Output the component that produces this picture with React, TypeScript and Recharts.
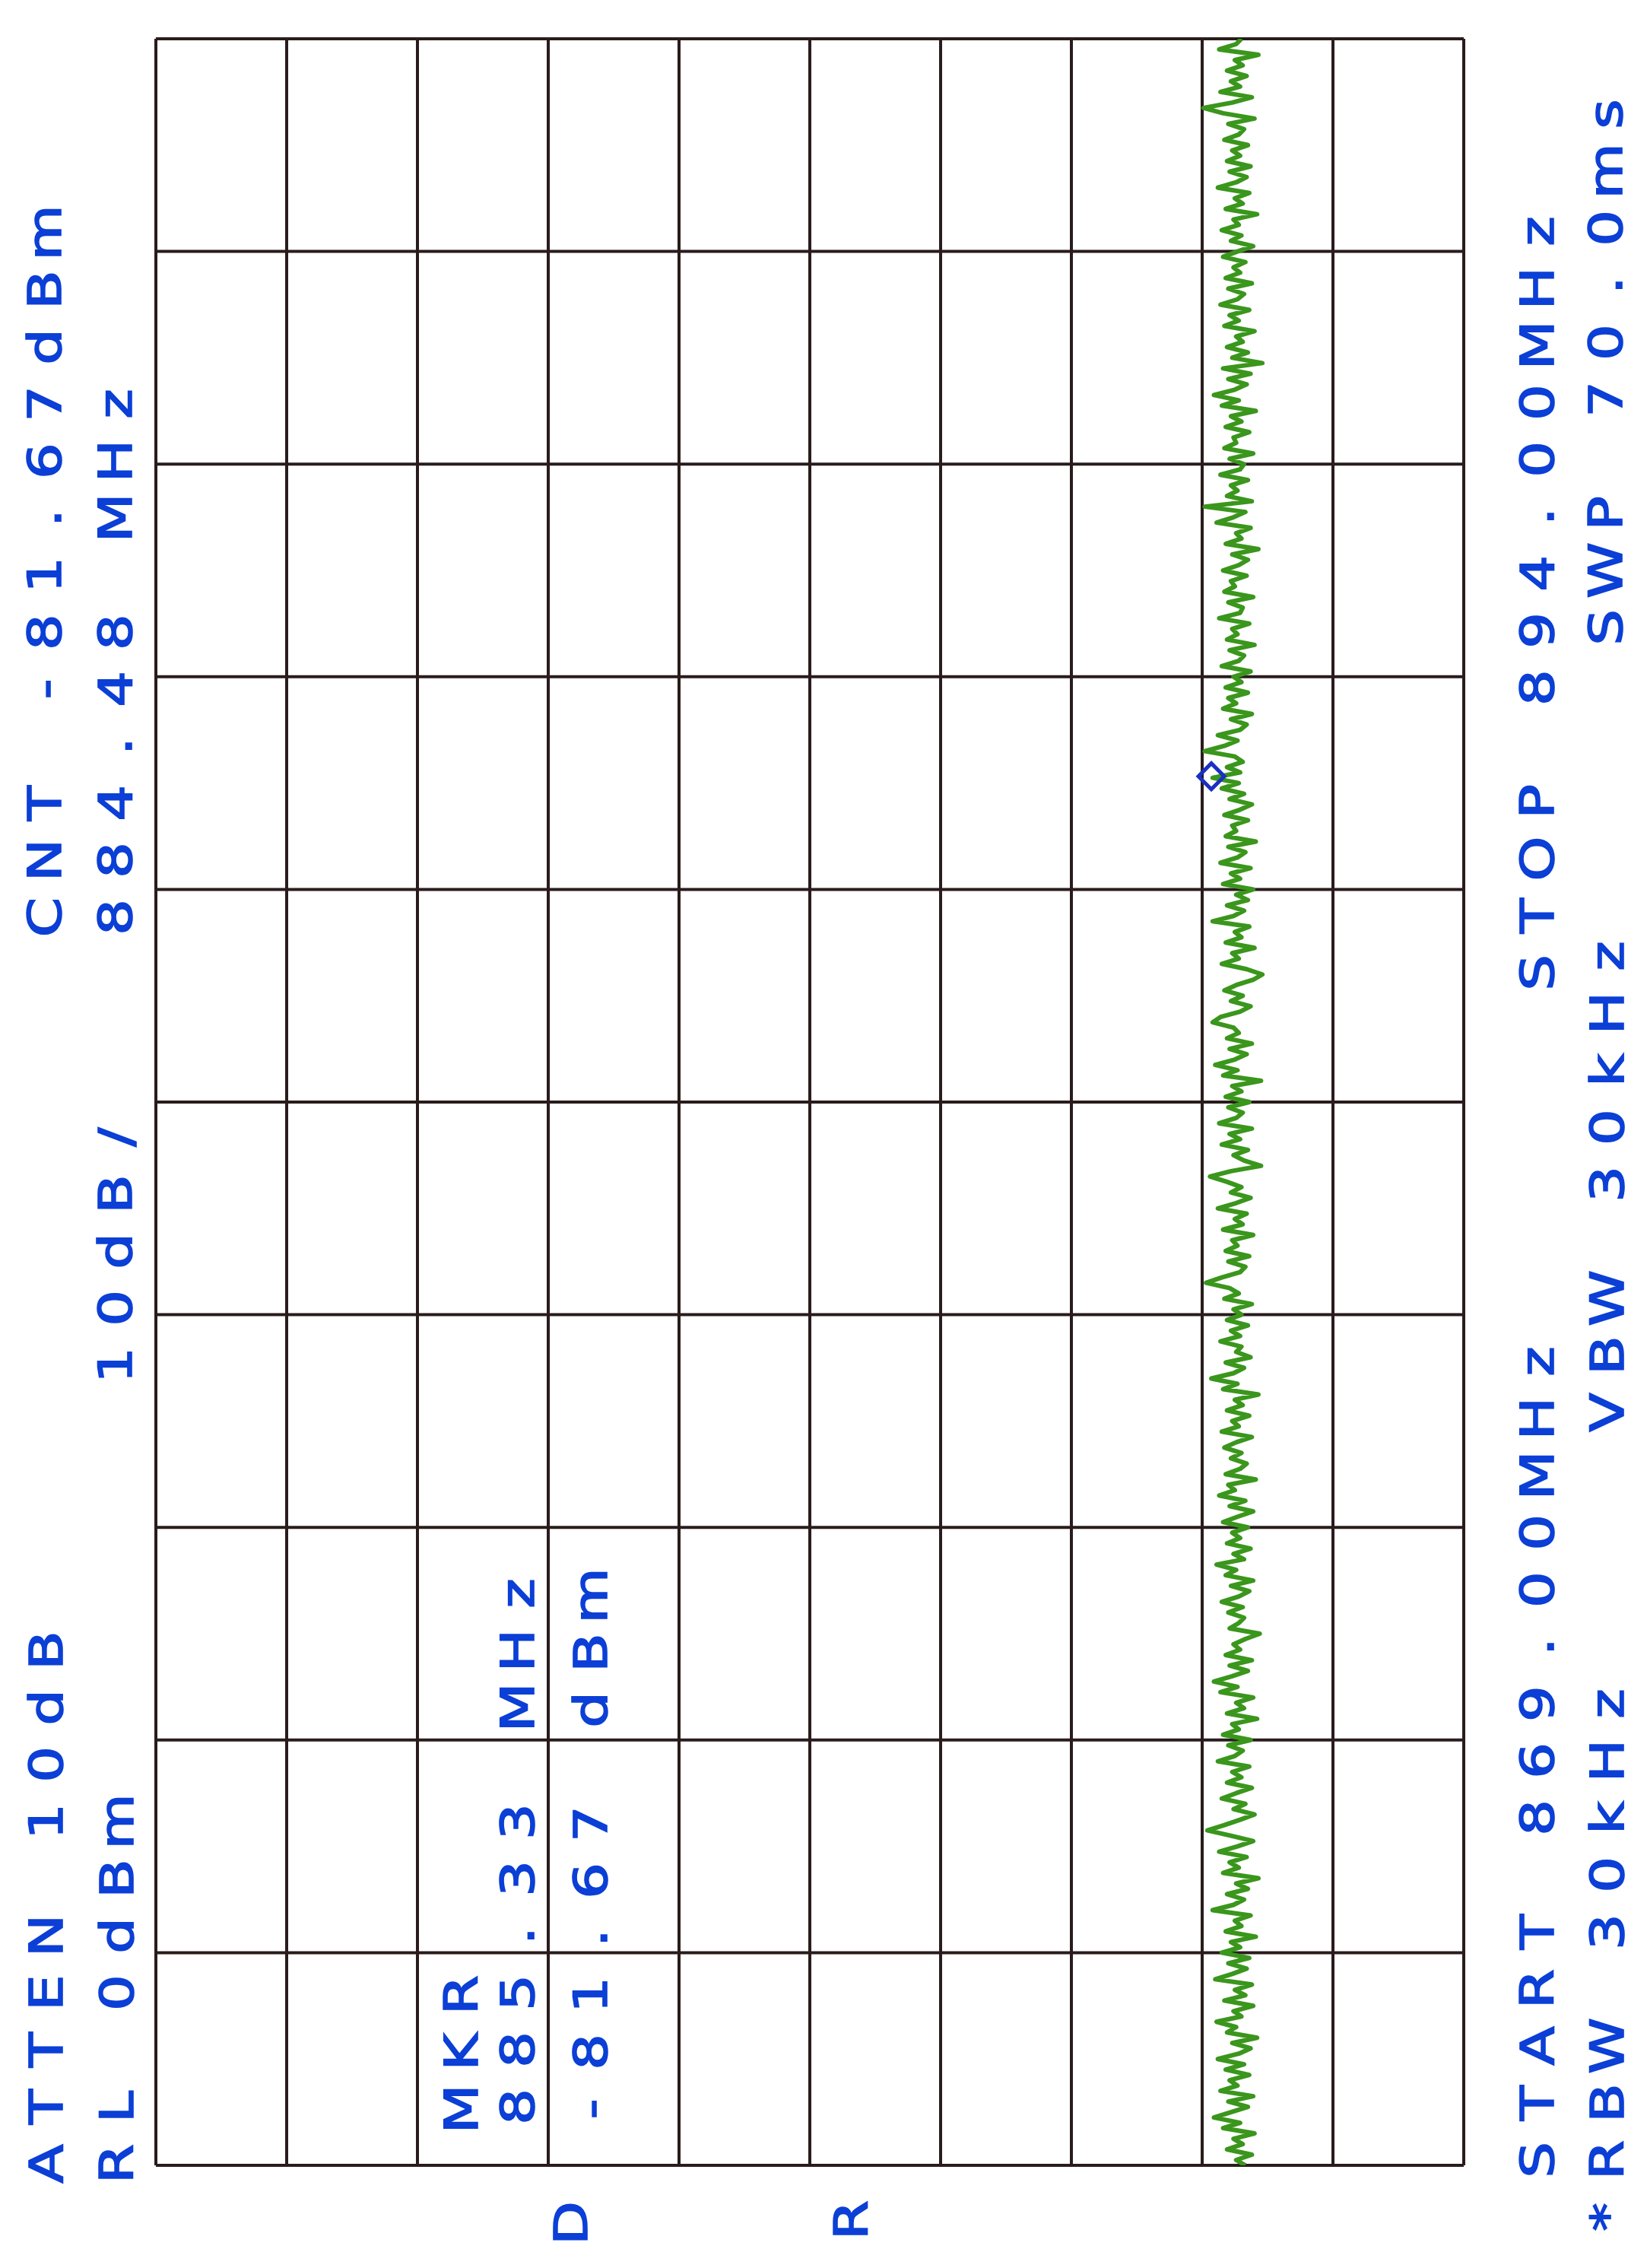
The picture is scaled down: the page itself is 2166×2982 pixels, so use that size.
import React from "react";
import {
  ComposedChart,
  Line,
  XAxis,
  YAxis,
  ReferenceLine,
  ReferenceDot,
} from "recharts";

// sweep settings as printed on the plot
const START_MHZ = 869;
const STOP_MHZ = 894;

// amplitude graticule (10 dB/div, RL 0 dBm) and frequency graticule
const DB_TICKS = [0, -10, -20, -30, -40, -50, -60, -70, -80, -90, -100];
const FREQ_TICKS = [869, 871.5, 874, 876.5, 879, 881.5, 884, 886.5, 889, 891.5, 894];

const TRACE_DB = [
  -83.3, -82.6, -83.8, -81.9, -83.1, -82.4, -84.0, -81.6, -82.9, -80.9, -82.2, -83.5, -82.0, -83.9, -81.4, -82.7, -82.1, -83.6, -81.8, -83.2,
  -81.2, -82.8, -83.7, -82.3, -84.2, -81.9, -82.6, -81.1, -83.0, -82.4, -83.9, -81.7, -83.3, -82.5, -83.8, -81.0, -82.3, -83.4, -82.0, -83.6,
  -81.5, -82.9, -82.2, -84.1, -81.8, -83.0, -82.5, -83.7, -80.8, -82.4, -83.2, -81.9, -83.5, -82.6, -84.3, -81.6, -82.8, -82.1, -83.4, -81.3,
  -82.7, -83.9, -82.2, -80.4, -81.7, -82.9, -84.0, -82.4, -83.3, -81.5, -82.6, -83.8, -81.9, -83.0, -82.3, -83.6, -81.2, -82.5, -83.1, -82.0,
  -83.7, -81.6, -82.8, -82.3, -84.2, -81.9, -83.2, -82.6, -83.9, -81.4, -82.7, -80.9, -82.3, -83.5, -82.1, -83.8, -81.8, -82.9, -82.4, -83.3,
  -84.4, -82.1, -82.8, -83.2, -82.0, -83.1, -81.5, -82.8, -83.6, -82.2, -83.9, -81.8, -82.6, -81.1, -83.2, -82.4, -83.7, -81.9, -82.9, -82.3,
  -83.5, -81.6, -82.7, -83.9, -82.1, -83.3, -81.3, -82.5, -82.0, -84.1, -81.8, -82.9, -83.4, -82.2, -83.0, -81.7, -82.6, -83.8, -81.5, -82.8,
  -82.3, -83.6, -81.9, -83.1, -82.5, -84.3, -81.6, -82.7, -80.7, -82.4, -83.2, -81.8, -83.7, -82.6, -83.0, -81.4, -82.9, -82.2, -83.5, -81.9,
  -83.0, -82.4, -83.8, -81.7, -82.8, -82.1, -80.3, -81.5, -82.9, -83.3, -82.0, -83.6, -81.8, -82.7, -82.3, -83.9, -81.6, -83.1, -82.5, -83.4,
  -81.2, -82.6, -83.7, -82.2, -83.0, -81.9, -80.6, -82.2, -84.5, -83.2, -82.4, -83.5, -81.5, -82.9, -82.1, -83.8, -81.3, -82.6, -83.1, -82.0,
  -83.6, -81.8, -83.0, -82.3, -84.5, -81.6, -82.7, -81.0, -82.5, -83.4, -82.1, -83.8, -81.9, -82.8, -82.4, -80.8, -81.4, -82.9, -83.7, -82.2,
  -83.1, -81.7, -82.6, -83.9, -84.6, -83.4, -81.5, -82.8, -82.3, -84.0, -81.8, -83.0, -82.5, -83.6, -80.8, -82.4, -83.2, -81.9, -83.5, -82.6,
  -83.9, -81.6, -82.9, -82.2, -83.7, -81.4, -82.7, -83.3, -82.0, -84.1, -81.8, -82.6, -82.3, -83.5, -81.7, -82.9, -83.8, -82.1, -83.2, -81.5,
  -82.8, -80.8, -82.9, -81.9, -83.1, -82.5, -80.2, -81.7, -82.7, -81.2, -82.9, -83.4, -82.2, -83.8, -81.6, -82.6, -82.0, -83.5, -81.8, -83.0,
  -82.4, -83.7, -81.5, -82.8, -83.2, -82.1, -84.0, -81.9, -82.7, -82.3, -83.6, -81.3, -82.9, -83.1, -82.0, -83.9, -81.7, -82.5, -82.2, -83.4,
  -81.6, -82.8, -83.5, -82.3, -84.3, -81.8, -83.0, -82.6, -83.7, -81.1, -82.4, -83.3, -80.2, -83.8, -81.9, -82.7, -82.2, -83.5, -81.4, -82.9,
  -83.2, -82.1, -83.9, -81.7, -82.6, -82.4, -83.6, -81.8, -83.0, -82.2, -84.1, -81.5, -82.8, -80.9, -82.5, -83.4, -82.0, -83.7, -81.6, -84.6,
  -82.3, -83.5, -81.9, -83.1, -82.6, -84.0, -81.7, -82.8, -82.1, -83.6, -81.4, -82.7, -83.2, -82.0, -83.8, -81.8, -82.9, -82.4, -83.3, -81.6,
  -82.7, -83.9, -82.2, -83.0, -81.5, -82.8, -82.4, -84.2, -81.8, -83.1, -82.5, -83.6, -81.2, -82.6, -83.4, -82.1, -83.7, -81.9, -82.9, -82.3,
  -83.5, -81.7, -82.8, -83.2, -82.0, -84.0, -81.6, -80.1, -82.3, -83.8, -81.4, -82.9, -82.2, -83.4, -81.9, -83.1, -82.5, -84.3, -81.3, -82.6, -83.0,
];

// marker as drawn on the trace
const MARKER_MHZ = 885.33;
const MARKER_DB = -80.7;

const traceData = TRACE_DB.map((v, i) => ({
  f: START_MHZ + (i * (STOP_MHZ - START_MHZ)) / (TRACE_DB.length - 1),
  v,
}));

const W = 2166;
const H = 2982;
const BLUE = "#0b3fd6";
const INK = "#2a1c1c";
const GREEN = "#3a961c";

const PITCH = 75;
const SLOT = 42;
const SX = 1.25;

// plotter-style label: fixed pitch, rotated to read bottom-to-top
const PlotLabel = ({ text, x, y }: { text: string; x: number; y: number }) => {
  const xs = Array.from(text).map((_, i) => ((i * PITCH + SLOT / 2) / SX).toFixed(1));
  return (
    <text
      transform={`translate(${x} ${y}) rotate(-90) scale(${SX} 1)`}
      x={xs.join(" ")}
      y={0}
      textAnchor="middle"
      fontFamily="DejaVu Sans, sans-serif"
      fontSize={60}
      fill={BLUE}
      stroke={BLUE}
      strokeWidth={1.6}
    >
      {text}
    </text>
  );
};

const Diamond = (props: any) => {
  const { cx, cy } = props;
  const r = 17;
  return (
    <path
      d={`M${cx - r},${cy} L${cx},${cy - r} L${cx + r},${cy} L${cx},${cy + r} Z`}
      fill="none"
      stroke="#1a30c4"
      strokeWidth={5}
    />
  );
};

export default function App() {
  return (
    <div style={{ position: "absolute", left: 0, top: 0, width: W, height: H, background: "#fff" }}>
      <ComposedChart
        width={W}
        height={H}
        layout="vertical"
        data={traceData}
        margin={{ top: 51, right: 241, bottom: 135, left: 205 }}
      >
        <XAxis type="number" dataKey="v" domain={[-100, 0]} reversed hide allowDataOverflow />
        <YAxis type="number" dataKey="f" domain={[START_MHZ, STOP_MHZ]} reversed hide allowDataOverflow />
        {DB_TICKS.map((d) => (
          <ReferenceLine key={`x${d}`} x={d} stroke={INK} strokeWidth={4} ifOverflow="extendDomain" />
        ))}
        {FREQ_TICKS.map((f) => (
          <ReferenceLine key={`y${f}`} y={f} stroke={INK} strokeWidth={4} ifOverflow="extendDomain" />
        ))}
        <Line
          dataKey="v"
          type="linear"
          stroke={GREEN}
          strokeWidth={6}
          strokeLinejoin="round"
          dot={false}
          isAnimationActive={false}
        />
        <ReferenceDot x={MARKER_DB} y={MARKER_MHZ} shape={Diamond} ifOverflow="extendDomain" />
      </ComposedChart>
      <svg
        width={W}
        height={H}
        style={{ position: "absolute", left: 0, top: 0, pointerEvents: "none" }}
      >
        <PlotLabel text="ATTEN 10dB" x={82} y={2866} />
        <PlotLabel text="RL 0dBm" x={175} y={2866} />
        <PlotLabel text="10dB/" x={173} y={1816} />
        <PlotLabel text="CNT -81.67dBm" x={80} y={1227} />
        <PlotLabel text="884.48 MHz" x={173} y={1227} />
        <PlotLabel text="MKR" x={628} y={2794} />
        <PlotLabel text="885.33 MHz" x={702} y={2791} />
        <PlotLabel text="-81.67 dBm" x={798} y={2794} />
        <PlotLabel text="D" x={772} y={2944} />
        <PlotLabel text="R" x={1141} y={2940} />
        <PlotLabel text="START 869.00MHz" x={2043} y={2861} />
        <PlotLabel text="STOP 894.00MHz" x={2043} y={1300} />
        <PlotLabel text="*RBW 30kHz" x={2135} y={2936} />
        <PlotLabel text="VBW 30kHz" x={2135} y={1878} />
        <PlotLabel text="SWP 70.0ms" x={2133} y={846} />
      </svg>
    </div>
  );
}
